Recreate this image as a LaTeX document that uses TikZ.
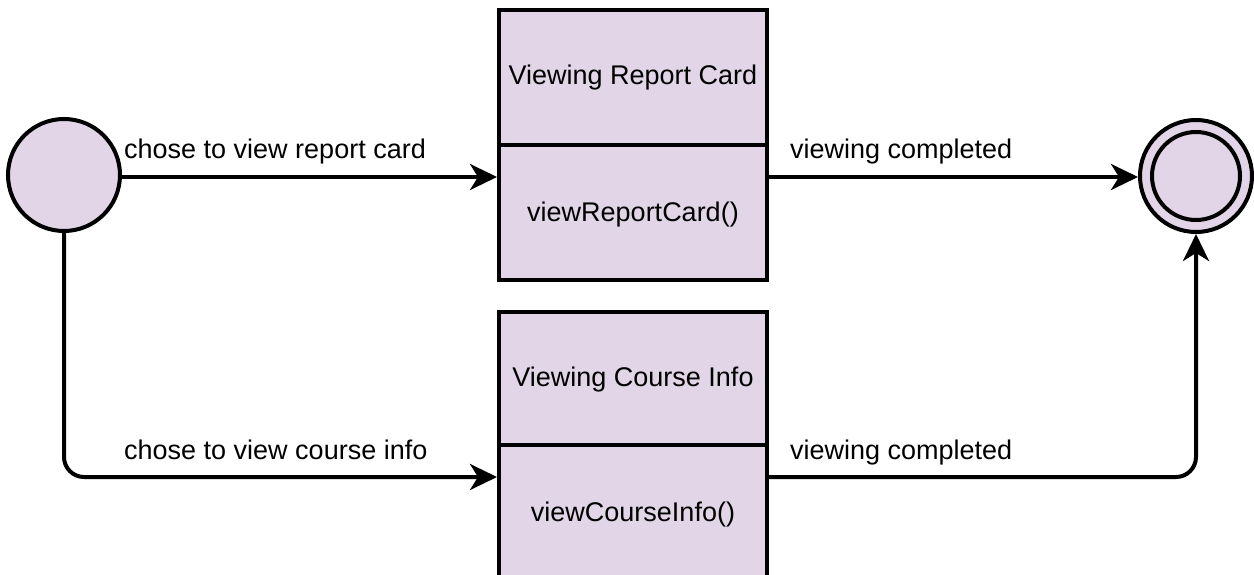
\documentclass[tikz,border=0pt]{standalone}
\usepackage{fontspec}
\setmainfont{Liberation Sans}
\usetikzlibrary{arrows.meta}
\definecolor{lav}{HTML}{E1D5E7}
\begin{document}
\begin{tikzpicture}[x=1pt,y=-1pt,
  lw/.style={line width=4pt},
  statebox/.style={draw,lw,fill=lav,minimum width=268pt,minimum height=135pt,inner sep=0pt,anchor=north west},
  txt/.style={font=\fontsize{27}{32}\selectfont,inner sep=0pt},
  conn/.style={lw,-{Stealth[length=27pt,width=26pt,inset=8pt]},rounded corners=20pt},
  dot/.style={circle,draw,lw,fill=lav,minimum size=112pt,inner sep=0pt}]
\useasboundingbox (0,0) rectangle (1254,575);
\begin{scope}
\clip (0,0) rectangle (1254,575);
% states
\node[statebox] (rt) at (497,8) {};
\node[statebox] (rb) at (497,143) {};
\node[statebox] (ct) at (497,310) {};
\node[statebox] (cb) at (497,443) {};
\end{scope}
\node[txt] at (rt.center) {Viewing Report Card};
\node[txt] at ([yshift=-2pt]rb.center) {viewReportCard()};
\node[txt] at (ct.center) {Viewing Course Info};
\node[txt] at ([yshift=-2pt]cb.center) {viewCourseInfo()};
% start / end
\node[dot] (start) at (64,175) {};
\node[dot] (end) at (1196,176) {};
\node[circle,draw,lw,minimum size=88pt,inner sep=0pt] (endin) at (end.center) {};
% anchors
\coordinate (r1) at (497,177);
\coordinate (c1) at (497,477);
\coordinate (r2) at (765,177);
\coordinate (c2) at (765,477);
\draw[conn] (start.east |- r1) -- (r1);
\draw[conn] (start.south) |- (c1);
\draw[conn] (r2) -- (end.west |- r2);
\draw[conn] (c2) -| (end.south);
% labels
\node[txt,anchor=base west] (l1) at (124,159) {chose to view report card};
\node[txt,anchor=base west] (l2) at (124,459) {chose to view course info};
\node[txt,anchor=base west] (l3) at (790,159) {viewing completed};
\node[txt,anchor=base west] (l4) at (790,459) {viewing completed};
\end{tikzpicture}
\end{document}
